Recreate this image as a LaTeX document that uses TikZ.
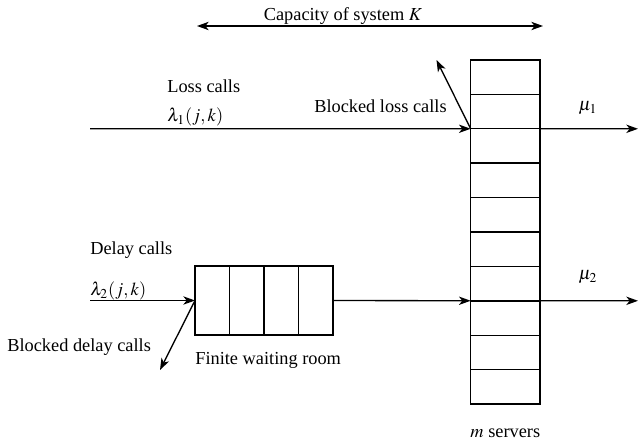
\documentclass[tikz,border=0pt]{standalone}
\usepackage{mathptmx}
\usepackage{fontspec}
\setmainfont{Liberation Serif}
\usetikzlibrary{arrows.meta}

\tikzset{
    srv/.style={draw, line width=0.8pt, minimum width=41.6pt, minimum height=20.6pt, inner sep=0pt, outer sep=0pt},
    wait/.style={draw, line width=0.8pt, minimum width=20.7pt, minimum height=41.4pt, inner sep=0pt, outer sep=0pt},
    tip/.style={Stealth[length=7pt, width=5pt, inset=2pt]},
    flow/.style={line width=0.8pt, -{Stealth[length=7pt, width=5pt, inset=2pt]}},
    both/.style={line width=0.8pt, {Stealth[length=7pt, width=5pt, inset=2pt]}-{Stealth[length=7pt, width=5pt, inset=2pt]}},
    lbl/.style={inner sep=0pt, font=\fontsize{11}{13}\selectfont},
}

\begin{document}
\begin{tikzpicture}[x=0.6pt,y=0.6pt,yscale=-1,xscale=1]
    \useasboundingbox (0,0) rectangle (639,442);

    % Servers
    \foreach \i in {1,...,10}
        \node[srv] (s\i) at (505.3,{42.8+34.4*\i}) {};
    % Waiting room
    \foreach \i in {1,...,4}
        \node[wait] (w\i) at ({177.75+34.5*\i},300.5) {};

    % Free ends
    \coordinate (lossin) at (90,128.8);
    \coordinate (lossout) at (436.5,60);
    \coordinate (out1) at (638,128.8);
    \coordinate (delayin) at (90,300.5);
    \coordinate (delayout) at (160,370);
    \coordinate (out2) at (638,300.8);
    \coordinate (capl) at (197,26);
    \coordinate (capr) at (543,26);

    % Text Node
    \node[lbl] (cap) at (343,16) {Capacity of system $K$};
    \node[lbl, anchor=west] (losstxt) at (167,86) {Loss calls};
    \node[lbl, anchor=west] (lam1) at (167,117) {$\lambda_1(j,k)$};
    \node[lbl, anchor=east] (blossTxt) at (447,106) {Blocked loss calls};
    \node[lbl] (mu1) at (588,108) {$\mu_1$};
    \node[lbl, anchor=west] (delaytxt) at (90,250) {Delay calls};
    \node[lbl, anchor=west] (lam2) at (90,291) {$\lambda_2(j,k)$};
    \node[lbl] (mu2) at (588,277) {$\mu_2$};
    \node[lbl, anchor=west] (bdelayTxt) at (7,347) {Blocked delay calls};
    \node[lbl, anchor=west] (roomtxt) at (195,360) {Finite waiting room};
    \node[lbl] (srvtxt) at (505.3,433) {$m$ servers};

    % Connection
    \draw[both] (capl) -- (capr);
    \draw[flow] (lossin) -- (s2.south west);
    \draw[flow] (s2.south west) -- (lossout);
    \draw[flow] (s2.south east) -- (out1);
    \draw[flow] (delayin) -- (w1.west);
    \draw[flow] (w1.west) -- (delayout);
    \draw[flow] (w4.east) -- (s7.south west);
    \draw[flow] (s7.south east) -- (out2);

\end{tikzpicture}
\end{document}
